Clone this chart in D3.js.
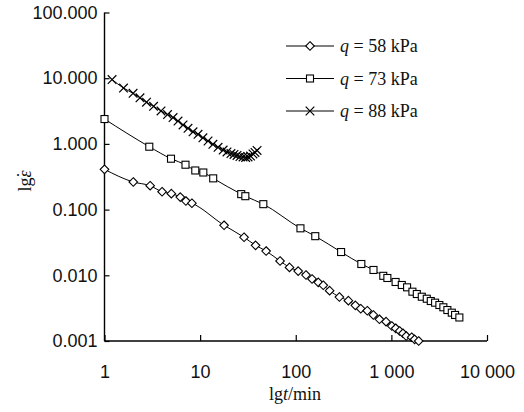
<!DOCTYPE html>
<html>
<head>
<meta charset="utf-8">
<script src="https://cdn.jsdelivr.net/npm/d3@7"></script>
<style>
  body { margin: 0; background: #fff; }
  svg { font-family: "Liberation Serif", "Times New Roman", serif; }
</style>
</head>
<body>
<div id="chart"></div>
<script>
// ---- data ----
const seriesNames = ["q = 58 kPa", "q = 73 kPa", "q = 88 kPa"];
const seriesMarkers = ["diamond", "square", "cross"];

const t58 = [1, 2, 3, 4, 5, 6.2, 7.1, 8.2, 17.8, 28.8, 38, 49, 68.5, 86, 106, 128, 148, 172, 194, 226, 286, 355, 420, 478, 560, 648, 750, 880, 1010, 1110, 1220, 1320, 1430, 1630, 1750, 1930];
const e58 = [0.41, 0.263, 0.231, 0.187, 0.175, 0.155, 0.135, 0.125, 0.0577, 0.0379, 0.0286, 0.0234, 0.0165, 0.0132, 0.0116, 0.0101, 0.00879, 0.00782, 0.00705, 0.00583, 0.00467, 0.00411, 0.00349, 0.0031, 0.00289, 0.00249, 0.00214, 0.00197, 0.00169, 0.00156, 0.00142, 0.00131, 0.00119, 0.00114, 0.00106, 0.001];

const t73 = [1, 2.94, 4.96, 7.03, 8.9, 10.8, 13.7, 26.9, 29.7, 45.8, 112, 160, 298, 485, 650, 823, 908, 1107, 1285, 1460, 1660, 1845, 2080, 2345, 2583, 2865, 3177, 3497, 3852, 4283, 4636, 5140];
const e73 = [2.39, 0.906, 0.595, 0.482, 0.394, 0.367, 0.299, 0.172, 0.16, 0.121, 0.0519, 0.0394, 0.0226, 0.01486, 0.01205, 0.00982, 0.0091, 0.00791, 0.00712, 0.00656, 0.00563, 0.00519, 0.00472, 0.0044, 0.00406, 0.00383, 0.00353, 0.00326, 0.00296, 0.0027, 0.00249, 0.00228];

const t88 = [1.2, 1.58, 1.99, 2.35, 2.75, 3.26, 3.9, 4.56, 5.21, 5.87, 6.63, 7.47, 8.43, 9.51, 10.7, 12.1, 13.6, 15.4, 17.4, 19.1, 21.0, 22.6, 24.3, 26.1, 28.1, 29.9, 31.7, 33.7, 35.7, 37.5, 39.4];
const e88 = [9.55, 7.09, 5.89, 5.03, 4.31, 3.73, 3.17, 2.8, 2.52, 2.23, 1.94, 1.73, 1.53, 1.4, 1.24, 1.107, 0.986, 0.888, 0.807, 0.753, 0.714, 0.69, 0.666, 0.643, 0.632, 0.621, 0.632, 0.654, 0.702, 0.74, 0.794];

const xTicks = [1, 10, 100, 1000, 10000];
const xTickLabels = ["1", "10", "100", "1 000", "10 000"];
const yTicks = [0.001, 0.01, 0.1, 1, 10, 100];
const yTickLabels = ["0.001", "0.010", "0.100", "1.000", "10.000", "100.000"];

const allT = [t58, t73, t88];
const allE = [e58, e73, e88];

// ---- layout ----
const W = 524, H = 412;
const margin = {top: 12.5, right: 37, bottom: 71, left: 104.5};
const width = W - margin.left - margin.right;
const height = H - margin.top - margin.bottom;

const svg = d3.select("#chart").append("svg")
    .attr("width", W)
    .attr("height", H);

const g = svg.append("g")
    .attr("transform", `translate(${margin.left},${margin.top})`);

const x = d3.scaleLog().domain([1, 10000]).range([0, width]);
const y = d3.scaleLog().domain([0.001, 100]).range([height, 0]);

// x axis, ticks pointing inward
const xAxis = d3.axisBottom(x)
    .tickValues(xTicks)
    .tickSize(-6)
    .tickFormat((d, i) => xTickLabels[i]);

g.append("g")
    .attr("transform", `translate(0,${height})`)
    .call(xAxis)
    .call(a => a.select(".domain").attr("d", `M0,0H${width}`))
    .call(a => a.selectAll("line").attr("stroke-width", 1.2))
    .call(a => a.selectAll("text")
        .attr("y", 24)
        .attr("fill", "#111")
        .style("font-size", "18px"));

// y axis, ticks pointing inward
const yAxis = d3.axisLeft(y)
    .tickValues(yTicks)
    .tickSize(-5)
    .tickFormat((d, i) => yTickLabels[i]);

g.append("g")
    .call(yAxis)
    .call(a => a.select(".domain").attr("d", `M0,0V${height}`))
    .call(a => a.selectAll("line").attr("stroke-width", 1.2))
    .call(a => a.selectAll("text")
        .attr("x", -7)
        .attr("fill", "#111")
        .style("font-size", "18px"));

g.selectAll(".domain").attr("stroke", "#000").attr("stroke-width", 1.4);

// axis titles
const xTitle = svg.append("text")
    .attr("x", 295)
    .attr("y", 400)
    .attr("text-anchor", "middle")
    .style("font-size", "18px")
    .attr("fill", "#111");
xTitle.append("tspan").text("lg");
xTitle.append("tspan").attr("font-style", "italic").text("t");
xTitle.append("tspan").text("/min");

const yTitle = svg.append("text")
    .attr("transform", "translate(31,181) rotate(-90)")
    .attr("text-anchor", "middle")
    .style("font-size", "18px")
    .attr("fill", "#111");
yTitle.append("tspan").text("lg");
yTitle.append("tspan").attr("font-style", "italic").text("\u03B5");
// dot above epsilon, nudged back over the letter
yTitle.append("tspan").attr("dx", "-0.42em").attr("dy", "-0.05em").text("\u02D9");
yTitle.append("tspan").attr("dx", "0.2em").text("");

// ---- marker drawing ----
function drawMarker(sel, type) {
    if (type === "diamond") {
        sel.append("path")
            .attr("d", "M0,-4.3L4.3,0L0,4.3L-4.3,0Z")
            .attr("fill", "#fff").attr("stroke", "#000").attr("stroke-width", 1.1);
    } else if (type === "square") {
        sel.append("rect")
            .attr("x", -3.5).attr("y", -3.5).attr("width", 7).attr("height", 7)
            .attr("fill", "#fff").attr("stroke", "#000").attr("stroke-width", 1.1);
    } else {
        sel.append("path")
            .attr("d", "M-4.3,-4.3L4.3,4.3M-4.3,4.3L4.3,-4.3")
            .attr("fill", "none").attr("stroke", "#000").attr("stroke-width", 1.2);
    }
}

const line = d3.line()
    .x(d => x(d[0]))
    .y(d => y(d[1]))
    .curve(d3.curveMonotoneX);

allT.forEach((ts, si) => {
    const pts = ts.map((t, i) => [t, allE[si][i]]);
    g.append("path")
        .datum(pts)
        .attr("d", line)
        .attr("fill", "none")
        .attr("stroke", "#000")
        .attr("stroke-width", 1);

    g.append("g")
        .selectAll("g")
        .data(pts)
        .join("g")
        .attr("transform", d => `translate(${x(d[0])},${y(d[1])})`)
        .each(function() { drawMarker(d3.select(this), seriesMarkers[si]); });
});

// ---- legend ----
const legend = svg.append("g").attr("transform", "translate(286,46)");
seriesNames.forEach((name, i) => {
    const row = legend.append("g").attr("transform", `translate(0,${i * 32.5})`);
    row.append("line")
        .attr("x1", 0).attr("x2", 48)
        .attr("stroke", "#000").attr("stroke-width", 1);
    const m = row.append("g").attr("transform", "translate(24,0)");
    drawMarker(m, seriesMarkers[i]);
    const txt = row.append("text")
        .attr("x", 54)
        .attr("y", 6)
        .style("font-size", "18px")
        .attr("fill", "#111");
    const parts = name.split(" = ");
    txt.append("tspan").attr("font-style", "italic").text(parts[0]);
    txt.append("tspan").text(" = " + parts[1]);
});
</script>
</body>
</html>
